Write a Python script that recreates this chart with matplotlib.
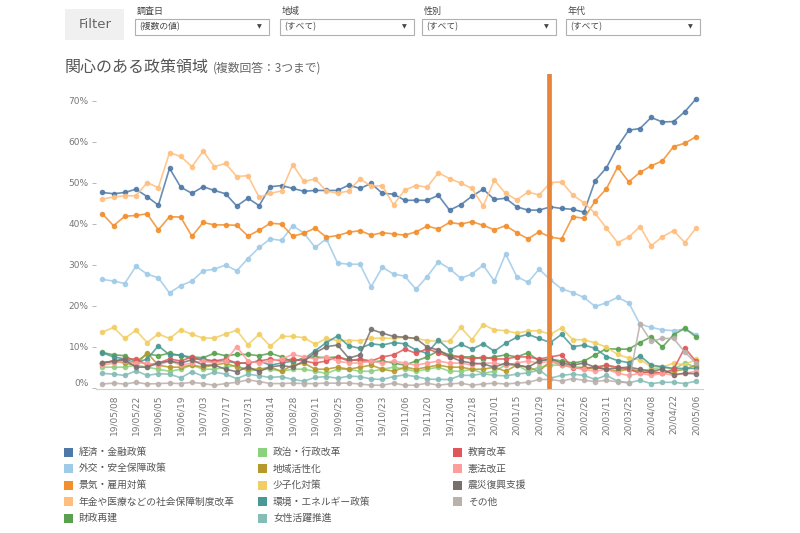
import matplotlib
matplotlib.use("Agg")
import matplotlib.pyplot as plt
from matplotlib.patches import Rectangle
import pandas as pd

JP = ['Noto Sans CJK JP', 'DejaVu Sans']
plt.rcParams['font.family'] = JP

# ---------------- data ----------------
dates = pd.date_range('2019-05-01', periods=54, freq='7D')
date_labels = list(dates.strftime('%y/%m/%d'))
marker_date = '20/02/05'

categories = ['経済・金融政策', '外交・安全保障政策', '景気・雇用対策',
              '年金や医療などの社会保障制度改革', '財政再建',
              '政治・行政改革', '地域活性化', '少子化対策',
              '環境・エネルギー政策', '女性活躍推進',
              '教育改革', '憲法改正', '震災復興支援', 'その他']

colors = ['#4e79a7', '#a0cbe8', '#f28e2b', '#ffbe7d', '#59a14f',
          '#8cd17d', '#b6992d', '#f1ce63', '#499894', '#86bcb6',
          '#e15759', '#ff9d9a', '#79706e', '#bab0ac']

keizai = [47.6, 47.3, 47.6, 48.4, 46.6, 44.5, 53.5, 48.9, 47.4, 49.0,
          48.1, 47.3, 44.3, 46.2, 44.4, 49.0, 49.3, 48.6, 47.9, 48.1,
          48.1, 48.1, 49.4, 48.6, 49.8, 47.4, 47.2, 45.7, 45.7, 45.7,
          46.9, 43.3, 44.6, 46.7, 48.4, 45.9, 46.2, 44.1, 43.3, 43.3,
          44.1, 43.7, 43.5, 42.8, 50.5, 53.6, 58.8, 62.8, 63.2, 65.9,
          64.8, 64.9, 67.3, 70.4]
gaiko = [26.4, 26.0, 25.4, 29.6, 27.7, 26.8, 23.1, 24.9, 26.0, 28.5,
         28.9, 29.9, 28.5, 31.5, 34.2, 36.3, 35.9, 39.5, 37.7, 34.2,
         36.3, 30.4, 30.1, 30.1, 24.6, 29.4, 27.7, 27.2, 24.0, 27.1,
         30.7, 29.0, 26.7, 27.7, 29.9, 26.0, 32.6, 27.1, 25.7, 28.9,
         26.3, 24.1, 23.2, 22.0, 19.8, 20.7, 22.0, 20.7, 15.5, 14.7,
         14.1, 13.9, 14.3, 12.9]
keiki = [42.4, 39.5, 41.8, 42.0, 42.4, 38.5, 41.7, 41.6, 36.9, 40.3,
         39.7, 39.7, 39.6, 37.0, 38.4, 40.1, 39.9, 36.9, 37.7, 38.9,
         36.7, 37.1, 37.9, 38.3, 37.2, 37.8, 37.5, 37.2, 38.0, 39.4,
         38.7, 40.3, 39.9, 40.5, 39.6, 38.5, 39.5, 37.8, 36.3, 38.0,
         36.7, 36.3, 41.7, 41.3, 45.5, 48.5, 53.8, 50.2, 52.5, 54.1,
         55.3, 58.8, 59.6, 61.2]
nenkin = [46.0, 46.5, 46.8, 46.8, 50.0, 48.8, 57.3, 56.4, 53.9, 57.7,
          53.9, 54.7, 51.5, 51.7, 46.4, 47.4, 48.0, 54.4, 50.3, 50.9,
          48.0, 47.4, 48.0, 50.9, 49.2, 49.2, 44.6, 48.2, 49.3, 48.9,
          52.4, 51.0, 49.9, 48.6, 44.3, 50.6, 47.4, 45.8, 47.7, 47.0,
          50.0, 50.2, 47.0, 45.1, 42.5, 38.9, 35.4, 36.7, 39.3, 34.6,
          36.8, 38.3, 35.4, 38.9]
zaisei = [8.6, 8.0, 7.8, 6.3, 8.2, 7.8, 8.4, 7.8, 7.5, 7.3,
          8.4, 7.8, 8.1, 8.1, 7.8, 8.4, 7.5, 6.3, 7.3, 7.5,
          7.3, 7.5, 6.8, 6.6, 6.3, 6.5, 6.0, 5.5, 6.5, 7.5,
          9.0, 8.0, 7.5, 7.5, 7.0, 7.5, 8.0, 7.5, 8.5, 6.5,
          7.0, 6.5, 6.0, 6.5, 8.0, 9.5, 9.4, 9.4, 11.0, 12.4,
          9.9, 12.9, 14.5, 12.4]
seiji = [5.0, 5.0, 5.0, 5.5, 5.0, 4.5, 4.0, 4.5, 5.5, 4.5,
         4.5, 5.0, 5.5, 4.0, 4.5, 4.5, 4.0, 4.5, 4.5, 4.0,
         3.5, 4.5, 4.5, 4.0, 4.0, 4.5, 5.0, 4.5, 4.0, 4.5,
         5.0, 4.0, 4.0, 4.5, 3.5, 4.0, 5.5, 5.5, 4.0, 5.0,
         5.5, 5.5, 5.0, 5.0, 4.5, 5.5, 4.5, 4.5, 4.0, 4.5,
         5.0, 4.5, 6.0, 5.0]
chiiki = [6.0, 6.5, 6.0, 5.5, 8.5, 5.5, 5.0, 5.0, 5.5, 5.0,
          5.5, 6.0, 5.0, 4.5, 4.5, 5.0, 4.0, 5.5, 6.0, 4.5,
          4.5, 5.0, 4.5, 5.0, 5.5, 4.5, 4.0, 5.0, 4.5, 5.0,
          5.5, 5.0, 5.0, 4.5, 4.5, 5.0, 4.0, 5.5, 5.0, 4.0,
          6.5, 5.5, 5.0, 4.5, 5.0, 4.5, 4.0, 4.5, 4.0, 3.5,
          3.5, 4.0, 4.5, 5.5]
shoshika = [13.5, 14.7, 12.0, 14.0, 11.0, 13.1, 12.0, 14.1, 13.0, 12.1,
            12.1, 13.1, 14.0, 10.5, 13.0, 10.1, 12.5, 12.5, 12.2, 10.6,
            12.0, 11.5, 11.5, 11.5, 12.0, 12.1, 12.0, 12.3, 12.0, 11.5,
            11.3, 11.3, 14.7, 11.7, 15.4, 14.1, 13.9, 13.3, 13.8, 13.9,
            13.0, 14.6, 11.7, 11.7, 10.9, 9.9, 8.1, 7.2, 6.8, 5.2,
            5.0, 6.0, 5.6, 6.9]
kankyo = [8.5, 7.5, 7.0, 6.0, 7.0, 10.2, 8.0, 8.0, 7.0, 7.0,
          6.5, 6.5, 6.0, 6.0, 6.5, 5.5, 6.0, 6.5, 7.0, 9.0,
          11.0, 12.6, 10.2, 9.6, 10.7, 10.4, 11.0, 10.7, 9.2, 8.4,
          11.6, 9.2, 10.6, 9.4, 10.7, 8.9, 10.8, 12.3, 13.0, 12.0,
          11.0, 13.0, 10.0, 10.4, 9.6, 7.6, 6.6, 6.1, 7.8, 5.5,
          5.1, 4.7, 4.7, 4.7]
josei = [3.5, 3.3, 3.0, 4.1, 3.0, 3.4, 3.3, 2.4, 3.9, 2.8,
         3.8, 3.3, 2.2, 3.3, 2.9, 2.5, 2.7, 2.0, 1.6, 2.5,
         2.7, 2.3, 2.8, 2.7, 2.1, 2.0, 2.7, 3.1, 2.7, 2.1,
         2.0, 2.0, 3.0, 3.0, 3.4, 3.0, 2.9, 3.3, 3.6, 4.3,
         2.3, 3.0, 3.3, 3.0, 2.0, 3.0, 1.6, 1.2, 1.8, 1.0,
         1.3, 1.3, 1.0, 1.6]
kyoiku = [6.0, 6.5, 7.0, 7.0, 5.5, 6.0, 7.0, 6.5, 7.5, 6.5,
          6.5, 7.0, 6.0, 6.0, 6.5, 7.0, 6.5, 7.0, 6.5, 6.0,
          6.5, 7.5, 6.5, 7.0, 6.5, 7.5, 8.0, 9.4, 8.4, 9.5,
          8.5, 7.5, 7.5, 7.0, 7.5, 7.0, 7.0, 7.5, 7.5, 7.0,
          7.5, 8.0, 4.8, 4.8, 5.0, 5.5, 5.0, 4.5, 3.5, 4.0,
          3.5, 4.5, 9.7, 6.4]
kenpo = [5.5, 6.0, 6.5, 6.0, 6.0, 5.5, 6.5, 5.5, 6.0, 6.5,
         6.0, 6.5, 10.0, 6.5, 6.0, 6.5, 7.0, 8.1, 7.5, 7.0,
         7.5, 6.5, 6.0, 6.0, 6.5, 6.0, 6.5, 6.0, 5.5, 6.0,
         6.5, 6.0, 6.0, 5.5, 6.0, 6.0, 5.5, 6.0, 6.5, 6.0,
         6.5, 5.5, 5.0, 4.5, 4.0, 4.5, 3.5, 3.0, 3.5, 3.0,
         3.5, 3.0, 3.5, 4.0]
shinsai = [6.0, 6.5, 6.8, 5.0, 5.0, 6.0, 6.5, 6.0, 6.8, 5.5,
           5.5, 4.5, 3.9, 5.1, 3.9, 5.1, 5.4, 5.0, 6.5, 8.5,
           10.0, 10.4, 7.2, 8.0, 14.2, 13.3, 12.5, 12.3, 12.0, 9.9,
           9.2, 7.6, 6.5, 6.0, 5.8, 5.0, 6.0, 5.5, 5.0, 6.5,
           7.0, 6.0, 5.5, 6.0, 5.0, 4.5, 4.8, 5.0, 4.5, 4.0,
           4.5, 3.2, 3.5, 3.4]
sonota = [0.9, 1.1, 0.9, 1.3, 0.9, 1.0, 1.1, 1.0, 1.3, 1.0,
          0.6, 1.0, 1.3, 1.9, 1.5, 1.0, 1.0, 1.1, 1.0, 1.0,
          1.1, 1.1, 1.1, 0.9, 0.6, 0.6, 1.1, 0.6, 0.6, 1.1,
          0.6, 0.9, 1.1, 0.6, 0.9, 1.1, 0.9, 1.1, 1.3, 2.0,
          2.0, 1.6, 2.2, 1.8, 1.5, 1.8, 1.4, 1.2, 15.5, 11.3,
          12.0, 12.0, 8.7, 6.0]

series = [keizai, gaiko, keiki, nenkin, zaisei, seiji, chiiki, shoshika,
          kankyo, josei, kyoiku, kenpo, shinsai, sonota]

y_ticks = [0, 10, 20, 30, 40, 50, 60, 70]
filter_labels = ['調査日', '地域', '性別', '年代']
filter_values = ['(複数の値)', '(すべて)', '(すべて)', '(すべて)']

# ---------------- figure ----------------
W, H = 800, 533
fig = plt.figure(figsize=(W / 100, H / 100), dpi=100)


def fx(x):
    return x / W


def fy(y):
    return 1 - y / H


ax = fig.add_axes([fx(95.6), fy(388.9), fx(702.7) - fx(95.6), fy(74.0) - fy(388.9)])
xs = list(range(len(date_labels)))

draw_order = [13, 9, 5, 6, 11, 10, 12, 4, 8, 7, 1, 3, 2, 0]
for k in draw_order:
    ax.plot(xs, series[k], color=colors[k], lw=1.2, marker='o', ms=3.0,
            alpha=0.85, solid_joinstyle='round', zorder=2 + k * 0.01)

ax.axvline(date_labels.index(marker_date) - 0.1, color='#e8843a', lw=3.4, zorder=5)

ax.set_xlim(-0.6, len(xs) - 0.4)
ax.set_ylim(-0.3, 76.5)
ax.set_yticks(y_ticks)
ax.set_yticklabels([f'{v}%' for v in y_ticks], family=['DejaVu Sans'])
ax.get_yticklabels()[0].set_va('bottom')
ax.tick_params(axis='y', length=3, width=0.6, color='#aaaaaa', pad=2,
               labelsize=6.5, labelcolor='#777777')
tick_idx = list(range(1, len(xs), 2))
ax.set_xticks(tick_idx)
ax.set_xticklabels([date_labels[i] for i in tick_idx], rotation=90,
                   family=['DejaVu Sans'])
ax.tick_params(axis='x', length=0, pad=4, labelsize=6.5, labelcolor='#777777')
for s in ['top', 'right', 'left']:
    ax.spines[s].set_visible(False)
ax.spines['bottom'].set_color('#d0d0d0')
ax.spines['bottom'].set_linewidth(0.8)

# ---------------- filter bar ----------------
fig.patches.append(Rectangle((fx(65), fy(40)), fx(124) - fx(65), fy(9) - fy(40),
                             transform=fig.transFigure, facecolor='#f0f0f0',
                             edgecolor='none'))
fig.text(fx(95), fy(25), 'Filter', ha='center', va='center', fontsize=9.5,
         color='#666666', family=['DejaVu Sans'])
box_x = [135, 280, 422, 566]
for bx, lab, val in zip(box_x, filter_labels, filter_values):
    fig.text(fx(bx + 2), fy(11), lab, ha='left', va='center', fontsize=6.5,
             color='#444444', family=JP)
    fig.patches.append(Rectangle((fx(bx), fy(35)), fx(134), fy(19) - fy(35),
                                 transform=fig.transFigure, facecolor='white',
                                 edgecolor='#b0b0b0', lw=0.8))
    fig.text(fx(bx + 4), fy(27), val, ha='left', va='center', fontsize=6.3,
             color='#444444', family=JP)
    fig.text(fx(bx + 124), fy(27), '▼', ha='center', va='center', fontsize=4.5,
             color='#444444', family=['DejaVu Sans'])

# ---------------- title ----------------
fig.text(fx(65), fy(67), '関心のある政策領域', ha='left', va='center',
         fontsize=11.5, color='#555555', family=JP)
fig.text(fx(213), fy(68), '(複数回答：3つまで)', ha='left', va='center',
         fontsize=8.5, color='#666666', family=JP)

# ---------------- legend ----------------
col_x = [64, 258, 453]
row_y = [452, 468.5, 485, 501.5, 518]
cols = [[0, 1, 2, 3, 4], [5, 6, 7, 8, 9], [10, 11, 12, 13]]
for cx, members in zip(col_x, cols):
    for r, k in enumerate(members):
        cy = row_y[r]
        fig.patches.append(Rectangle((fx(cx), fy(cy + 4.5)), fx(9), fy(cy - 4.5) - fy(cy + 4.5),
                                     transform=fig.transFigure,
                                     facecolor=colors[k], edgecolor='none'))
        fig.text(fx(cx + 15), fy(cy), categories[k], ha='left', va='center',
                 fontsize=7, color='#555555', family=JP)

fig.savefig('out.png', dpi=100, facecolor='white')
